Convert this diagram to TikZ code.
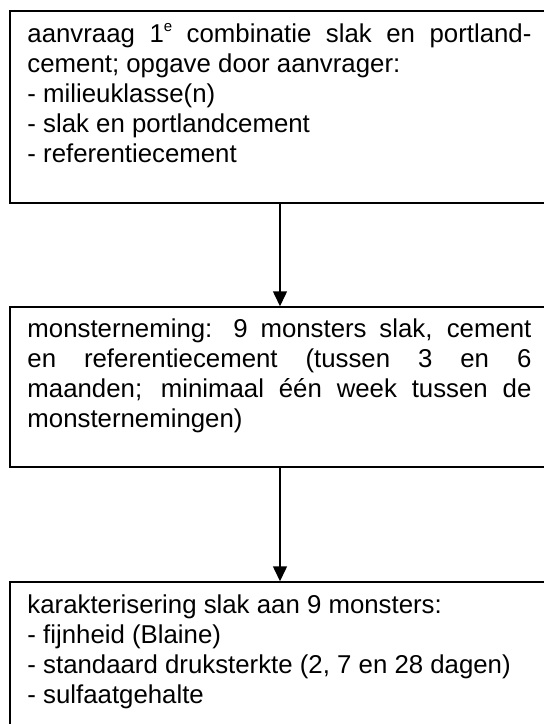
\documentclass[tikz,border=0pt]{standalone}
\usepackage{fontspec}
\setmainfont{Liberation Sans}
\usepackage{tikz}
\usetikzlibrary{arrows.meta}
\usetikzlibrary{positioning}
\tikzset{stapbox/.style={draw, line width=1.5pt, rectangle, minimum width=540pt}}
\tikzset{staptekst/.style={anchor=north west, inner sep=0pt, text width=504pt, align=justify,
                           font=\fontsize{25.8pt}{30pt}\selectfont}}
\tikzset{pijl/.style={-{Triangle[width=14pt,length=15pt]}, line width=1.5pt}}

\begin{document}
\begin{tikzpicture}[x=1pt,y=-1pt]
   \useasboundingbox (0,0) rectangle (544,724);
   \node[stapbox, minimum height=192pt] (aanvraag) at (280,107) {};
   \node[stapbox, minimum height=160pt] (monster)  at (280,387) {};
   \node[stapbox, minimum height=190pt] (karakter) at (280,677) {};

   \node[staptekst] (taanvraag) at ([xshift=18pt,yshift=-11pt]aanvraag.north west)
      {\strut aanvraag 1\raisebox{11pt}{\fontsize{15pt}{15pt}\selectfont e} combinatie slak en portland-\linebreak
       cement; opgave door aanvrager:\\
       - milieuklasse(n)\\
       - slak en portlandcement\\
       - referentiecement};
   \node[staptekst] (tmonster) at ([xshift=18pt,yshift=-10pt]monster.north west)
      {\strut monsterneming: 9 monsters slak, cement\linebreak
       en referentiecement (tussen 3 en 6\linebreak
       maanden; minimaal één week tussen de\linebreak
       monsternemingen)};
   \node[staptekst] (tkarakter) at ([xshift=18pt,yshift=-11pt]karakter.north west)
      {\strut karakterisering slak aan 9 monsters:\\
       - fijnheid (Blaine)\\
       - standaard druksterkte (2, 7 en 28 dagen)\\
       - sulfaatgehalte};

   \draw[pijl] (aanvraag.south) -- (monster.north);
   \draw[pijl] (monster.south) -- (karakter.north);
\end{tikzpicture}
\end{document}
